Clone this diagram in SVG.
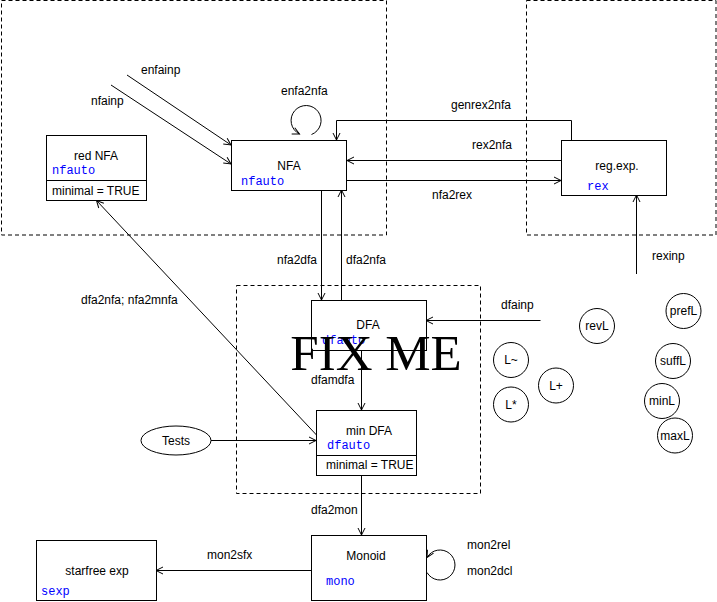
<svg xmlns="http://www.w3.org/2000/svg" width="717" height="602" viewBox="0 0 717 602">
<style>
  .bg{fill:#ffffff}
  .box{fill:#ffffff;stroke:#000;stroke-width:1}
  .dash{fill:none;stroke:#000;stroke-width:1;stroke-dasharray:4,3}
  .ln{fill:none;stroke:#000;stroke-width:1}
  .lab{font-family:"Liberation Sans",Arial,sans-serif;font-size:12px;fill:#000}
  .ctr{text-anchor:middle}
  .ty{font-family:"Liberation Mono","Courier New",monospace;font-size:12px;fill:#0000ff}
  .fix{font-family:"Liberation Serif","Times New Roman",serif;font-size:51px;fill:#000;text-anchor:middle}
</style>
<defs>
  <marker id="arr" markerUnits="userSpaceOnUse" markerWidth="12" markerHeight="10" viewBox="-8 -5 10 10" refX="0" refY="0" orient="auto">
    <path d="M -7 -3.5 L 0 0 L -7 3.5" fill="none" stroke="#000" stroke-width="1"/>
  </marker>
</defs>
<rect class="bg" x="0" y="0" width="717" height="602"/>
<g id="regions">
  <rect class="dash" x="1.5" y="0.5" width="385" height="234.5"/>
  <rect class="dash" x="526.5" y="0.5" width="189.5" height="234.5"/>
  <rect class="dash" x="236.5" y="285.5" width="244" height="208"/>
</g>
<g id="connectors">
  <line class="ln" x1="127" y1="75" x2="231" y2="145" marker-end="url(#arr)"/>
  <line class="ln" x1="111" y1="85" x2="231" y2="164" marker-end="url(#arr)"/>
  <path class="ln" d="M 311.5 134.5 A 15 15 0 1 0 299.5 134" marker-end="url(#arr)"/>
  <polyline class="ln" points="571.5,140 571.5,120.5 336.5,120.5 336.5,140" marker-end="url(#arr)"/>
  <line class="ln" x1="561" y1="160.5" x2="347" y2="160.5" marker-end="url(#arr)"/>
  <line class="ln" x1="347" y1="180.5" x2="561" y2="180.5" marker-end="url(#arr)"/>
  <line class="ln" x1="636.5" y1="274" x2="636.5" y2="195" marker-end="url(#arr)"/>
  <line class="ln" x1="321.5" y1="190" x2="321.5" y2="300" marker-end="url(#arr)"/>
  <line class="ln" x1="341.5" y1="300" x2="341.5" y2="190" marker-end="url(#arr)"/>
  <line class="ln" x1="540.5" y1="320.5" x2="426" y2="320.5" marker-end="url(#arr)"/>
  <line class="ln" x1="361.5" y1="350" x2="361.5" y2="410" marker-end="url(#arr)"/>
  <line class="ln" x1="316.5" y1="435" x2="96.5" y2="200.5" marker-end="url(#arr)"/>
  <line class="ln" x1="211" y1="440.5" x2="316" y2="440.5" marker-end="url(#arr)"/>
  <line class="ln" x1="361.5" y1="475" x2="361.5" y2="535" marker-end="url(#arr)"/>
  <line class="ln" x1="311" y1="570.5" x2="156" y2="570.5" marker-end="url(#arr)"/>
  <path class="ln" d="M 427 572.5 A 15 15 0 1 0 427 557.5" marker-end="url(#arr)"/>
  <text class="lab" x="141" y="74">enfainp</text>
  <text class="lab" x="91" y="105">nfainp</text>
  <text class="lab" x="281" y="95">enfa2nfa</text>
  <text class="lab" x="451" y="109">genrex2nfa</text>
  <text class="lab" x="472" y="149">rex2nfa</text>
  <text class="lab" x="432" y="199">nfa2rex</text>
  <text class="lab" x="652" y="260">rexinp</text>
  <text class="lab" x="277" y="264">nfa2dfa</text>
  <text class="lab" x="346" y="264">dfa2nfa</text>
  <text class="lab" x="81" y="304">dfa2nfa; nfa2mnfa</text>
  <text class="lab" x="501" y="309">dfainp</text>
  <text class="lab" x="311" y="384">dfamdfa</text>
  <text class="lab" x="311" y="514">dfa2mon</text>
  <text class="lab" x="207" y="559">mon2sfx</text>
  <text class="lab" x="467" y="549">mon2rel</text>
  <text class="lab" x="467" y="575">mon2dcl</text>
</g>
<g id="redNFA">
  <rect class="box" x="46.5" y="135.5" width="100" height="65"/>
  <line class="ln" x1="46.5" y1="180.5" x2="146.5" y2="180.5"/>
  <text class="lab ctr" x="96" y="160">red NFA</text>
  <text class="ty" x="52" y="174">nfauto</text>
  <text class="lab" x="52" y="195">minimal = TRUE</text>
</g>
<g id="NFA">
  <rect class="box" x="231.5" y="140.5" width="115" height="50"/>
  <text class="lab ctr" x="289" y="170">NFA</text>
  <text class="ty" x="241" y="185">nfauto</text>
</g>
<g id="regexp">
  <rect class="box" x="561.5" y="140.5" width="105" height="55"/>
  <text class="lab ctr" x="617" y="170">reg.exp.</text>
  <text class="ty" x="587" y="190">rex</text>
</g>
<g id="DFA">
  <rect class="box" x="311.5" y="300.5" width="115" height="50"/>
  <text class="lab ctr" x="368" y="329">DFA</text>
  <text class="ty" x="322" y="344">dfauto</text>
</g>
<g id="minDFA">
  <rect class="box" x="316.5" y="410.5" width="100" height="65"/>
  <line class="ln" x1="316.5" y1="455.5" x2="416.5" y2="455.5"/>
  <text class="lab ctr" x="369" y="435">min DFA</text>
  <text class="ty" x="327" y="449">dfauto</text>
  <text class="lab" x="326" y="469">minimal = TRUE</text>
</g>
<g id="Monoid">
  <rect class="box" x="311.5" y="535.5" width="115" height="65"/>
  <text class="lab ctr" x="366" y="560">Monoid</text>
  <text class="ty" x="326" y="585">mono</text>
</g>
<g id="starfree">
  <rect class="box" x="36.5" y="540.5" width="120" height="60"/>
  <text class="lab ctr" x="97" y="575">starfree exp</text>
  <text class="ty" x="41" y="595">sexp</text>
</g>
<g id="Tests">
  <ellipse class="box" cx="176" cy="440.5" rx="35" ry="14.5"/>
  <text class="lab ctr" x="176" y="445">Tests</text>
</g>
<g id="revL"><circle class="box" cx="597" cy="326" r="17.5"/><text class="lab ctr" x="597" y="330">revL</text></g>
<g id="prefL"><circle class="box" cx="683.5" cy="311" r="17.5"/><text class="lab ctr" x="683.5" y="315">prefL</text></g>
<g id="Ltilde"><circle class="box" cx="511" cy="360" r="17.5"/><text class="lab ctr" x="511" y="364">L~</text></g>
<g id="Lplus"><circle class="box" cx="556" cy="385.5" r="17.5"/><text class="lab ctr" x="556" y="389.5">L+</text></g>
<g id="Lstar"><circle class="box" cx="511" cy="404.5" r="17.5"/><text class="lab ctr" x="511" y="408.5">L*</text></g>
<g id="suffL"><circle class="box" cx="673" cy="361" r="17.5"/><text class="lab ctr" x="673" y="365">suffL</text></g>
<g id="minL"><circle class="box" cx="662" cy="401" r="17.5"/><text class="lab ctr" x="662" y="405">minL</text></g>
<g id="maxL"><circle class="box" cx="675" cy="435.5" r="17.5"/><text class="lab ctr" x="675" y="439.5">maxL</text></g>
<text class="fix" x="376" y="370">FIX ME</text>
</svg>
